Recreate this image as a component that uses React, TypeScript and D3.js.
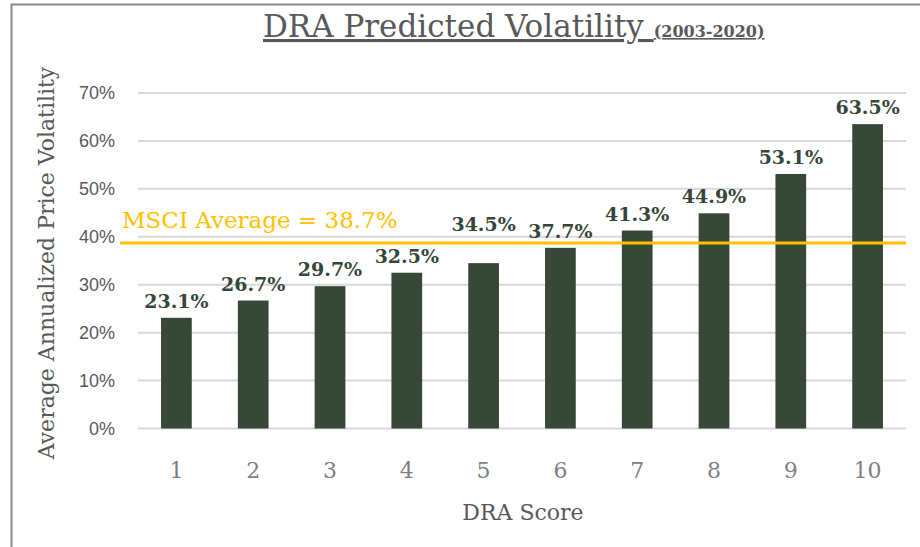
import { useEffect, useRef } from 'react';
import * as d3 from 'd3';

const scores = ['1', '2', '3', '4', '5', '6', '7', '8', '9', '10'];
const volatility = [23.1, 26.7, 29.7, 32.5, 34.5, 37.7, 41.3, 44.9, 53.1, 63.5];
const yTicks = [0, 10, 20, 30, 40, 50, 60, 70];
const msciAverage = 38.7;

export default function App() {
  const svgRef = useRef<SVGSVGElement>(null);

  useEffect(() => {
    if (!svgRef.current) return;
    const svg = d3.select(svgRef.current);
    svg.selectAll('*').remove();

    const width = 920;
    const height = 547;
    const margin = { top: 93, right: 14, bottom: 119, left: 138 };
    const serif = "'DejaVu Serif', 'Liberation Serif', serif";
    const sans = "'Liberation Sans', 'Open Sans', sans-serif";

    svg.attr('width', width).attr('height', height).attr('viewBox', `0 0 ${width} ${height}`);

    // Frame
    svg.append('rect').attr('width', width).attr('height', height).attr('fill', '#fff');
    svg.append('path')
      .attr('d', `M${width},4.5 H11.5 V${height}`)
      .attr('fill', 'none')
      .attr('stroke', '#8c8c8c')
      .attr('stroke-width', 2);

    const x = d3.scaleBand<string>()
      .domain(scores)
      .range([margin.left, width - margin.right])
      .paddingInner(0.6)
      .paddingOuter(0.3);

    const y = d3.scaleLinear()
      .domain([0, 70])
      .range([height - margin.bottom + 0.5, margin.top]);

    // Grid lines
    svg.append('g')
      .selectAll('line')
      .data(yTicks)
      .enter()
      .append('line')
      .attr('x1', margin.left)
      .attr('x2', width - margin.right)
      .attr('y1', d => y(d))
      .attr('y2', d => y(d))
      .attr('stroke', '#d9d9d9')
      .attr('stroke-width', 2);

    // Y tick labels
    svg.append('g')
      .selectAll('text')
      .data(yTicks)
      .enter()
      .append('text')
      .attr('x', 115)
      .attr('y', d => y(d) + 6)
      .attr('text-anchor', 'end')
      .style('font-family', sans)
      .style('font-size', '18px')
      .attr('fill', '#595959')
      .text(d => `${d}%`);

    // Bars
    svg.append('g')
      .selectAll('rect')
      .data(volatility)
      .enter()
      .append('rect')
      .attr('x', (d, i) => x(scores[i])!)
      .attr('y', d => y(d))
      .attr('width', x.bandwidth())
      .attr('height', d => y(0) - y(d))
      .attr('fill', '#374838');

    // MSCI average line
    const yLine = y(msciAverage);
    svg.append('line')
      .attr('x1', 120)
      .attr('x2', width - margin.right)
      .attr('y1', yLine)
      .attr('y2', yLine)
      .attr('stroke', '#ffc000')
      .attr('stroke-width', 3);

    svg.append('text')
      .attr('x', 122)
      .attr('y', yLine - 15)
      .style('font-family', serif)
      .style('font-size', '23px')
      .attr('fill', '#ffc000')
      .text(`MSCI Average = ${msciAverage}%`);

    // Data labels, lifted above the average line where they would cross it
    svg.append('g')
      .selectAll('text')
      .data(volatility)
      .enter()
      .append('text')
      .attr('x', (d, i) => x(scores[i])! + x.bandwidth() / 2)
      .attr('y', d => {
        const base = y(d) - 10;
        return base > yLine - 5 && base <= yLine + 15 ? yLine - 12 : base;
      })
      .attr('text-anchor', 'middle')
      .style('font-family', serif)
      .style('font-size', '19px')
      .style('font-weight', '700')
      .attr('fill', '#36463a')
      .text(d => `${d.toFixed(1)}%`);

    // X tick labels
    svg.append('g')
      .selectAll('text')
      .data(scores)
      .enter()
      .append('text')
      .attr('x', d => x(d)! + x.bandwidth() / 2)
      .attr('y', 478)
      .attr('text-anchor', 'middle')
      .style('font-family', serif)
      .style('font-size', '22px')
      .attr('fill', '#7f7f7f')
      .text(d => d);

    // Axis titles
    svg.append('text')
      .attr('x', 523)
      .attr('y', 520)
      .attr('text-anchor', 'middle')
      .style('font-family', serif)
      .style('font-size', '22px')
      .attr('fill', '#595959')
      .text('DRA Score');

    svg.append('text')
      .attr('transform', 'rotate(-90)')
      .attr('x', -263)
      .attr('y', 54)
      .attr('text-anchor', 'middle')
      .style('font-family', serif)
      .style('font-size', '22px')
      .attr('fill', '#595959')
      .text('Average Annualized Price Volatility');

    // Title
    const title = svg.append('text')
      .attr('x', 263)
      .attr('y', 37)
      .style('font-family', serif)
      .attr('fill', '#595959')
      .style('text-decoration', 'underline');
    title.append('tspan')
      .style('font-size', '31px')
      .text('DRA Predicted Volatility ');
    title.append('tspan')
      .style('font-size', '16px')
      .style('font-weight', '700')
      .text('(2003-2020)');
  }, []);

  return (
    <div style={{ position: 'absolute', left: 0, top: 0 }}>
      <svg ref={svgRef} style={{ display: 'block' }} />
    </div>
  );
}
